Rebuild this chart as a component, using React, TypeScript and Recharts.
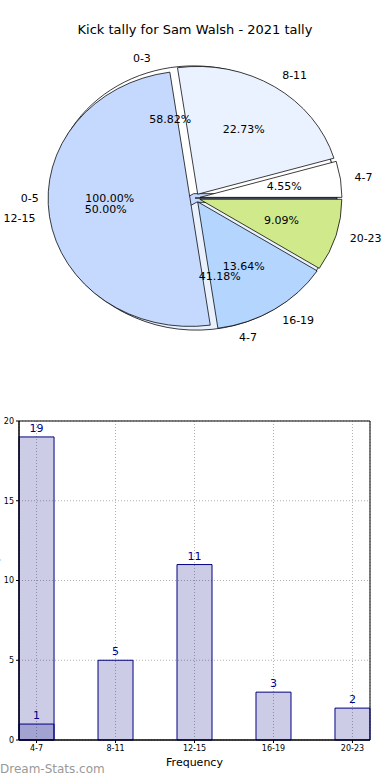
import React from 'react';
import { PieChart, Pie, Cell, BarChart, Bar, XAxis, YAxis, CartesianGrid, LabelList, ReferenceArea } from 'recharts';

const title = 'Kick tally for Sam Walsh - 2021 tally';

// pie layers (three overlaid pies, as in the original)
const rangesA = ['0-3', '4-7'];
const countsA = [10, 7];
const coloursA = ['#ffffff', '#e9f1ff'];

const rangesB = ['0-5'];
const countsB = [1];
const coloursB = ['#c5d9ff'];

const rangesC = ['4-7', '8-11', '12-15', '16-19', '20-23'];
const countsC = [1, 5, 11, 3, 2];
const coloursC = ['#ffffff', '#ebf2ff', '#c5d9fe', '#b4d5fe', '#cfe98b'];

// histogram
const binLabels = ['4-7', '8-11', '12-15', '16-19', '20-23'];
const tallyBack = [19, null, null, null, null];
const tallyFront = [1, 5, 11, 3, 2];
const yTicks = [0, 5, 10, 15, 20];

const FONT = '"DejaVu Sans", sans-serif';
const RAD = Math.PI / 180;
const R = 142;
const CX = 195;
const CY = 198;
const EXPLODE = 5;
const SY = 0.9; // pie is drawn squashed vertically

const toRows = (names: string[], vals: number[]) => names.map((name, i) => ({ name, value: vals[i] }));

const midAngles = (vals: number[]) => {
  const total = vals.reduce((a, b) => a + b, 0);
  let acc = 0;
  return vals.map((v) => {
    const m = ((acc + v / 2) / total) * 360;
    acc += v;
    return m;
  });
};

const unsquash = (x: number, y: number) => `translate(${x} ${y}) scale(1 ${1 / SY}) translate(${-x} ${-y})`;

const sliceLabel = (idx: number) => (p: any) => {
  if (p.index !== idx) return null;
  const cos = Math.cos(p.midAngle * RAD);
  const sin = Math.sin(p.midAngle * RAD);
  const lx = p.cx + 1.1 * R * cos;
  const ly = p.cy - 1.1 * R * sin;
  const px = p.cx + 0.6 * R * cos;
  const py = p.cy - 0.6 * R * sin;
  return (
    <g>
      <text x={lx} y={ly} transform={unsquash(lx, ly)} textAnchor={cos > 0.001 ? 'start' : 'end'} dominantBaseline="central" fontSize={11} fontFamily={FONT} fill="#000">
        {p.name}
      </text>
      <text x={px} y={py} transform={unsquash(px, py)} textAnchor="middle" dominantBaseline="central" fontSize={11} fontFamily={FONT} fill="#000">
        {(p.percent * 100).toFixed(2) + '%'}
      </text>
    </g>
  );
};

const explodedPie = (key: string, names: string[], vals: number[], colours: string[], explode: number) => {
  const data = toRows(names, vals);
  const mids = midAngles(vals);
  return data.map((_, idx) => (
    <Pie
      key={key + idx}
      data={data}
      dataKey="value"
      nameKey="name"
      cx={CX + explode * Math.cos(mids[idx] * RAD)}
      cy={CY - explode * Math.sin(mids[idx] * RAD)}
      outerRadius={R}
      startAngle={0}
      endAngle={360}
      isAnimationActive={false}
      labelLine={false}
      label={sliceLabel(idx)}
    >
      {data.map((d, j) => (
        <Cell key={d.name + j} fill={j === idx ? colours[j] : 'none'} stroke={j === idx ? '#000' : 'none'} strokeWidth={0.8} />
      ))}
    </Pie>
  ));
};

const barData = binLabels.map((label, i) => ({ pos: i, label, back: tallyBack[i], front: tallyFront[i] }));

export default function App() {
  return (
    <div style={{ position: 'absolute', left: 0, top: 0, width: 390, height: 780, background: '#fff', fontFamily: FONT, overflow: 'hidden' }}>
      <div style={{ position: 'absolute', top: 22, left: 0, width: 390, textAlign: 'center', fontSize: 13, color: '#000' }}>{title}</div>

      <div style={{ position: 'absolute', top: 0, left: 0, width: 390, height: 396, transform: `scaleY(${SY})`, transformOrigin: `${CX}px ${CY}px` }}>
        <PieChart width={390} height={396} margin={{ top: 0, right: 0, bottom: 0, left: 0 }}>
          {/* shadow */}
          <Pie data={[{ name: 'shadow', value: 1 }]} dataKey="value" cx={CX - 3} cy={CY + 3} outerRadius={R} isAnimationActive={false} stroke="none" fill="#555" fillOpacity={0.7} />
          {explodedPie('b', rangesB, countsB, coloursB, 0)}
          {explodedPie('a', rangesA, countsA, coloursA, EXPLODE)}
          {explodedPie('c', rangesC, countsC, coloursC, EXPLODE)}
        </PieChart>
      </div>

      <div style={{ position: 'absolute', top: 400, left: 0 }}>
        <BarChart width={390} height={380} data={barData} margin={{ top: 21, right: 20, bottom: 14, left: 0 }}>
          <CartesianGrid stroke="#b0b0b0" strokeDasharray="1 2" />
          <XAxis
            dataKey="pos"
            type="number"
            domain={[-0.222, 4.222]}
            ticks={[0, 1, 2, 3, 4]}
            interval={0}
            tickFormatter={(v: number) => binLabels[v]}
            tick={{ fontSize: 8, fill: '#000', fontFamily: FONT }}
            tickLine={{ stroke: '#000' }}
            tickSize={3}
            axisLine={{ stroke: '#000' }}
            height={26}
            label={{ value: 'Frequency', position: 'insideBottom', offset: 0, fontSize: 11, fill: '#000', fontFamily: FONT }}
          />
          <XAxis xAxisId="over" dataKey="pos" type="number" domain={[-0.222, 4.222]} hide />
          <YAxis
            type="number"
            domain={[0, 20]}
            ticks={yTicks}
            interval={0}
            width={19}
            tick={{ fontSize: 8, fill: '#000', fontFamily: FONT }}
            tickLine={{ stroke: '#000' }}
            tickSize={3}
            axisLine={{ stroke: '#000' }}
            label={{ value: 'Games Played', angle: -90, position: 'center', dx: -15, fontSize: 11, fill: '#000', fontFamily: FONT }}
          />
          <ReferenceArea x1={-0.222} x2={4.222} y1={0} y2={20} fill="none" stroke="#000" strokeOpacity={1} />
          <Bar dataKey="back" xAxisId="over" barSize={35} fill="#000080" fillOpacity={0.2} stroke="#000080" isAnimationActive={false}>
            <LabelList dataKey="back" position="top" fill="#00008b" fontSize={11} fontFamily={FONT} />
          </Bar>
          <Bar dataKey="front" barSize={35} fill="#000080" fillOpacity={0.2} stroke="#000080" isAnimationActive={false}>
            <LabelList dataKey="front" position="top" fill="#00008b" fontSize={11} fontFamily={FONT} />
          </Bar>
        </BarChart>
      </div>

      <div style={{ position: 'absolute', left: 0, top: 762, fontSize: 12, color: '#999' }}>Dream-Stats.com</div>
    </div>
  );
}
